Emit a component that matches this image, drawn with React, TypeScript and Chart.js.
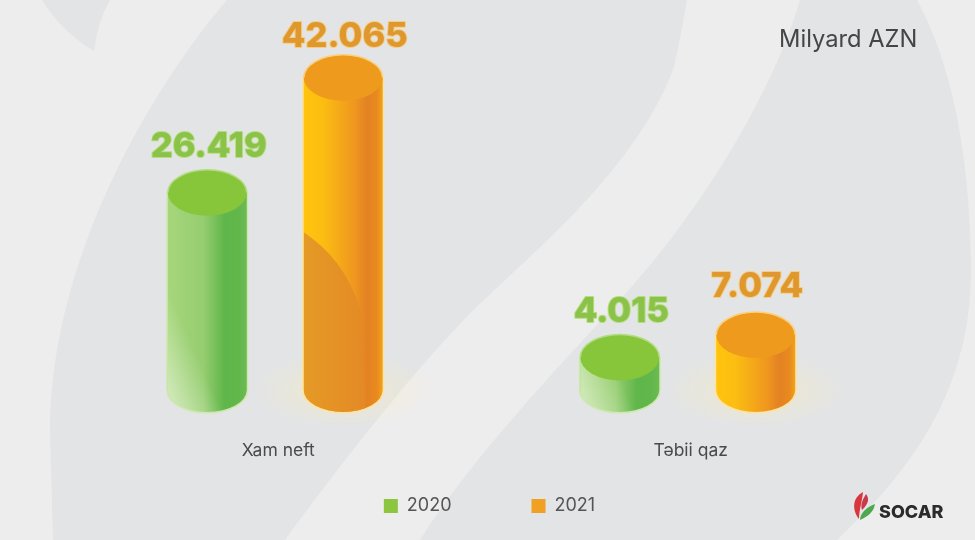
import React, { useEffect, useRef } from "react";
import { Chart, registerables } from "chart.js";

Chart.register(...registerables);

const categories = ["Xam neft", "Təbii qaz"];
const years = ["2020", "2021"];
const values2020 = [26.419, 4.015];
const values2021 = [42.065, 7.074];
const unitLabel = "Milyard AZN";
const brandLabel = "SOCAR";

const FONT = "Inter, 'Liberation Sans', sans-serif";
const RY = 22;
const LABEL_LIFT = [[36, 35], [31, 38]];

const GREEN_STOPS: [number, string][] = [
  [0, "#a6d67c"], [0.45, "#96cd70"], [0.72, "#5fb64a"], [0.9, "#62b74b"], [1, "#6cbb52"],
];
const ORANGE_STOPS: [number, string][] = [
  [0, "#ffc40d"], [0.25, "#fbbd12"], [0.65, "#ef961f"], [0.8, "#e38223"], [0.93, "#e98a1f"], [1, "#eea41d"],
];

function bodyPath(ctx: CanvasRenderingContext2D, x: number, top: number, base: number, rx: number) {
  ctx.beginPath();
  ctx.moveTo(x - rx, top);
  ctx.lineTo(x - rx, base);
  ctx.ellipse(x, base, rx, RY, 0, Math.PI, 0, true);
  ctx.lineTo(x + rx, top);
  ctx.closePath();
}

const backdrop = {
  id: "backdrop",
  beforeDraw(chart: any) {
    const ctx: CanvasRenderingContext2D = chart.ctx;
    ctx.save();
    ctx.fillStyle = "#eeeded";
    ctx.fillRect(0, 0, 975, 540);
    ctx.fillStyle = "#e3e4e5";
    // small top-left leaf
    ctx.beginPath();
    ctx.moveTo(42, 0);
    ctx.quadraticCurveTo(62, 32, 94, 51);
    ctx.quadraticCurveTo(98, 20, 110, 0);
    ctx.closePath();
    ctx.fill();
    // main left leaf
    ctx.beginPath();
    ctx.moveTo(227, 0);
    ctx.bezierCurveTo(150, 90, 50, 260, 50, 433);
    ctx.lineTo(53, 540);
    ctx.lineTo(285, 540);
    ctx.bezierCurveTo(340, 465, 425, 355, 487, 297);
    ctx.bezierCurveTo(549, 239, 640, 160, 674, 67);
    ctx.quadraticCurveTo(682, 30, 687, 0);
    ctx.closePath();
    ctx.fill();
    // right leaf
    ctx.beginPath();
    ctx.moveTo(800, 0);
    ctx.bezierCurveTo(780, 70, 720, 190, 620, 300);
    ctx.bezierCurveTo(560, 365, 470, 460, 420, 540);
    ctx.lineTo(837, 540);
    ctx.bezierCurveTo(900, 480, 972, 400, 971, 267);
    ctx.bezierCurveTo(970, 150, 950, 60, 917, 0);
    ctx.closePath();
    ctx.fill();
    ctx.restore();
  },
};

const legendPlacement = {
  id: "legendPlacement",
  beforeLayout(chart: any) {
    const l = chart.legend;
    if (l && !l.__wrapped) {
      const fit = l.fit;
      l.fit = function () {
        fit.call(this);
        this.height = 40;
      };
      l.__wrapped = true;
    }
  },
  afterLayout(chart: any) {
    const l = chart.legend;
    if (!l) return;
    l.top = 417;
    l.bottom = 540;
    l.left = 2;
    l.right = 977;
  },
};

const glow = {
  id: "glow",
  beforeDatasetsDraw(chart: any) {
    const ctx: CanvasRenderingContext2D = chart.ctx;
    chart.getDatasetMeta(1).data.forEach((el: any) => {
      ctx.save();
      ctx.translate(el.x, el.base);
      ctx.scale(1, 0.42);
      const g = ctx.createRadialGradient(0, 0, 30, 0, 0, 88);
      g.addColorStop(0, "rgba(248,238,190,0.4)");
      g.addColorStop(1, "rgba(248,238,190,0)");
      ctx.fillStyle = g;
      ctx.beginPath();
      ctx.arc(0, 0, 88, 0, Math.PI * 2);
      ctx.fill();
      ctx.restore();
    });
  },
};

const cylinders = {
  id: "cylinders",
  afterDatasetsDraw(chart: any) {
    const ctx: CanvasRenderingContext2D = chart.ctx;
    chart.data.datasets.forEach((ds: any, di: number) => {
      const green = di === 0;
      chart.getDatasetMeta(di).data.forEach((el: any, i: number) => {
        const { x, y: top, base } = el;
        const rx = el.width / 2;
        ctx.save();
        // outline glow
        bodyPath(ctx, x, top, base, rx);
        ctx.strokeStyle = green ? "#cfe8ad" : "#fde2a0";
        ctx.lineWidth = 3;
        ctx.stroke();
        // side
        const g = ctx.createLinearGradient(x - rx, 0, x + rx, 0);
        (green ? GREEN_STOPS : ORANGE_STOPS).forEach(([p, c]) => g.addColorStop(p, c));
        ctx.fillStyle = g;
        bodyPath(ctx, x, top, base, rx);
        ctx.fill();
        ctx.save();
        bodyPath(ctx, x, top, base, rx);
        ctx.clip();
        if (green) {
          const f = ctx.createLinearGradient(x - rx, base + RY, x - rx + 46, base + RY - 21);
          f.addColorStop(0, "rgba(255,255,255,0.55)");
          f.addColorStop(1, "rgba(255,255,255,0)");
          ctx.fillStyle = f;
          ctx.fillRect(x - rx, top, rx * 2, base + RY - top);
        } else if (base - top > 200) {
          const h = base - top;
          const s = ctx.createLinearGradient(x - rx, 0, x + rx * 0.6, 0);
          s.addColorStop(0, "#e59a26");
          s.addColorStop(1, "#e48925");
          ctx.fillStyle = s;
          ctx.beginPath();
          ctx.moveTo(x - rx, top + h * 0.495);
          ctx.bezierCurveTo(x - rx + 25, top + h * 0.55, x + 5, top + h * 0.62, x + 18, top + h * 0.75);
          ctx.lineTo(x + 22, base + RY);
          ctx.lineTo(x - rx, base + RY);
          ctx.closePath();
          ctx.fill();
        }
        ctx.restore();
        // top face
        ctx.beginPath();
        ctx.ellipse(x, top, rx, RY + 1, 0, 0, Math.PI * 2);
        ctx.fillStyle = green ? "#87c63b" : "#ee9a1d";
        ctx.fill();
        ctx.beginPath();
        ctx.ellipse(x, top, rx, RY + 1, 0, Math.PI, Math.PI * 2);
        ctx.strokeStyle = green ? "#b4dc84" : "#fbcf7c";
        ctx.lineWidth = 1.5;
        ctx.stroke();
        // value label
        const text = ds.data[i].toFixed(3);
        const ty = top - LABEL_LIFT[di][i];
        ctx.font = `800 34.5px ${FONT}`;
        ctx.textAlign = "center";
        ctx.textBaseline = "alphabetic";
        ctx.lineJoin = "round";
        ctx.lineWidth = 2;
        ctx.strokeStyle = green ? "#b6de7e" : "#f5cd86";
        ctx.strokeText(text, x + 1.5, ty);
        ctx.fillStyle = green ? "#8ac24a" : "#de982e";
        ctx.fillText(text, x + 1.5, ty);
        ctx.restore();
      });
    });
  },
};

const furniture = {
  id: "furniture",
  afterDraw(chart: any) {
    const ctx: CanvasRenderingContext2D = chart.ctx;
    ctx.save();
    ctx.textAlign = "left";
    ctx.textBaseline = "alphabetic";
    ctx.fillStyle = "#454545";
    ctx.font = `400 23.7px ${FONT}`;
    ctx.fillText(unitLabel, 779, 47);
    ctx.fillStyle = "#2b2b2b";
    ctx.font = `800 18px ${FONT}`;
    ctx.fillText(brandLabel, 879, 518);
    // flame mark
    ctx.fillStyle = "#d9363c";
    ctx.beginPath();
    ctx.moveTo(863, 492);
    ctx.bezierCurveTo(852, 498, 852, 510, 859, 519);
    ctx.bezierCurveTo(859, 511, 862, 502, 863, 492);
    ctx.closePath();
    ctx.fill();
    ctx.fillStyle = "#c93a4a";
    ctx.beginPath();
    ctx.moveTo(866, 494);
    ctx.bezierCurveTo(871, 500, 866, 506, 862, 510);
    ctx.bezierCurveTo(860, 504, 863, 499, 866, 494);
    ctx.closePath();
    ctx.fill();
    ctx.fillStyle = "#4ea84f";
    ctx.beginPath();
    ctx.moveTo(875, 504);
    ctx.bezierCurveTo(874, 512, 867, 517, 860, 520);
    ctx.bezierCurveTo(860, 513, 867, 507, 875, 504);
    ctx.closePath();
    ctx.fill();
    ctx.restore();
  },
};

export default function App() {
  const ref = useRef<HTMLCanvasElement>(null);
  useEffect(() => {
    const chart = new Chart(ref.current as HTMLCanvasElement, {
      type: "bar",
      data: {
        labels: categories,
        datasets: [
          { label: years[0], data: values2020, base: -0.41, backgroundColor: "#8cc63f", borderWidth: 0 },
          { label: years[1], data: values2021, base: -0.41, backgroundColor: "#f0a023", borderWidth: 0 },
        ],
      },
      options: {
        responsive: false,
        animation: false,
        layout: { padding: { left: 69, right: 81, top: 0, bottom: 0 } },
        datasets: { bar: { categoryPercentage: 0.659, barPercentage: 0.581 } },
        scales: {
          x: {
            grid: { display: false, drawTicks: false },
            border: { display: false },
            afterFit: (s: any) => { s.height = 109; },
            ticks: {
              padding: 49,
              labelOffset: 3,
              maxRotation: 0,
              color: "#4a4a4a",
              font: { family: FONT, size: 17.5 },
            },
          },
          y: { display: false, min: -0.544, max: 52.65 },
        },
        plugins: {
          legend: {
            position: "bottom",
            labels: {
              boxWidth: 14,
              boxHeight: 14,
              padding: 80,
              color: "#555555",
              font: { family: FONT, size: 18 },
            },
          },
          tooltip: { enabled: false },
        },
      },
      plugins: [backdrop, legendPlacement, glow, cylinders, furniture],
    } as any);
    return () => chart.destroy();
  }, []);
  return (
    <div style={{ position: "absolute", left: 0, top: 0, width: 975, height: 540 }}>
      <canvas ref={ref} width={975} height={540} style={{ display: "block" }} />
    </div>
  );
}
